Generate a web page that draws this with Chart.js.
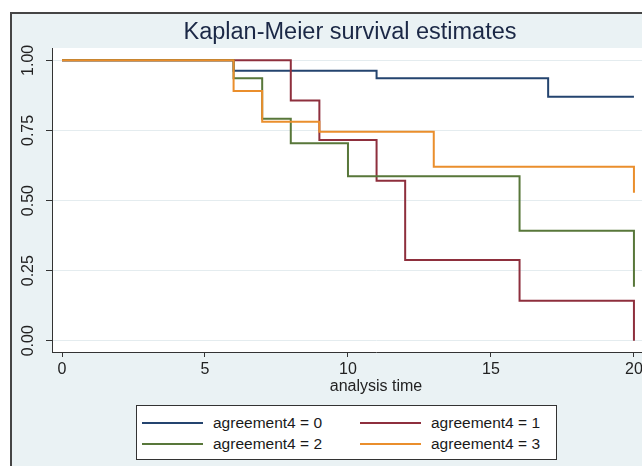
<!DOCTYPE html>
<html><head><meta charset="utf-8">
<script src="https://cdn.jsdelivr.net/npm/chart.js@4/dist/chart.umd.min.js"></script>
<style>
html,body{margin:0;padding:0;background:#fff;}
#wrap{position:relative;width:642px;height:466px;overflow:hidden;}
#frame{position:absolute;left:10px;top:12px;right:0;bottom:0;background:#EAF2F4;border-left:2px solid #454545;border-top:2px solid #454545;}
#c{position:absolute;left:0;top:0;}
#legend{position:absolute;left:136px;top:405px;width:421px;height:55px;background:#fff;border:1px solid #333;box-sizing:border-box;font-family:'Liberation Sans',Arial,sans-serif;font-size:15.5px;color:#1a1a1a;}
.item{position:absolute;height:20px;line-height:20px;width:200px;}
.swatch{position:absolute;left:0;top:9px;width:61px;height:2px;}
.lab{position:absolute;left:71px;top:0;white-space:nowrap;}
</style></head>
<body><div id="wrap"><div id="frame"></div><canvas id="c" width="700" height="466"></canvas><div id="legend"></div></div>
<script>
const seriesNames = ['agreement4 = 0', 'agreement4 = 1', 'agreement4 = 2', 'agreement4 = 3'];
const times0 = [0, 6, 11, 17, 20];
const surv0  = [1, 0.963, 0.936, 0.870, 0.870];
const times1 = [0, 8, 9, 11, 12, 16, 20];
const surv1  = [1, 0.857, 0.716, 0.571, 0.288, 0.143, 0];
const times2 = [0, 6, 7, 8, 10, 16, 20];
const surv2  = [1, 0.936, 0.792, 0.704, 0.587, 0.392, 0.193];
const times3 = [0, 6, 7, 9, 13, 20];
const surv3  = [1, 0.891, 0.781, 0.745, 0.621, 0.528];
const xTicks = [0, 5, 10, 15, 20];
const yTicks = [0, 0.25, 0.5, 0.75, 1];
const yTickLabels = ['0.00', '0.25', '0.50', '0.75', '1.00'];
const titleText = 'Kaplan-Meier survival estimates';
const xTitle = 'analysis time';

const colors = ['#24446f', '#8e2f3d', '#58773a', '#ea8e2c'];
const allTimes = [times0, times1, times2, times3];
const allSurv = [surv0, surv1, surv2, surv3];

const datasets = seriesNames.map((name, i) => ({
  label: name,
  data: allTimes[i].map((t, j) => ({x: t, y: allSurv[i][j]})),
  borderColor: colors[i],
  backgroundColor: colors[i],
  borderWidth: 2,
  pointRadius: 0,
  stepped: 'before',
  fill: false,
  order: 3 - i
}));

const plotBg = {
  id: 'plotBg',
  beforeDraw(chart) {
    const {ctx, chartArea: a} = chart;
    ctx.save();
    ctx.fillStyle = '#ffffff';
    ctx.fillRect(a.left, a.top, a.right - a.left, a.bottom - a.top);
    ctx.restore();
  }
};

const FONT = "'Liberation Sans', Arial, sans-serif";

new Chart(document.getElementById('c'), {
  type: 'line',
  data: {datasets},
  plugins: [plotBg],
  options: {
    responsive: false,
    animation: false,
    devicePixelRatio: 1,
    layout: {padding: {top: 18, left: 0, right: 0, bottom: 71}},
    plugins: {
      legend: {display: false},
      tooltip: {enabled: false},
      title: {
        display: true,
        text: titleText,
        color: '#1b2846',
        font: {family: FONT, size: 23.5, weight: 'normal'},
        padding: {top: 0, bottom: 1.8}
      }
    },
    scales: {
      x: {
        type: 'linear',
        min: -0.35,
        max: 22.31,
        afterBuildTicks(s) { s.ticks = xTicks.map(v => ({value: v})); },
        afterFit(s) { s.height = 43; },
        grid: {drawOnChartArea: false, tickLength: 5, tickColor: '#333', color: '#333'},
        border: {color: '#333', width: 1},
        ticks: {font: {family: FONT, size: 16}, color: '#222', padding: 3, maxRotation: 0, autoSkip: false,
          callback: (v) => String(v)},
        title: {display: true, text: xTitle, color: '#222', font: {family: FONT, size: 16, lineHeight: 1.0}, padding: {top: 0, bottom: 0}}
      },
      y: {
        type: 'linear',
        min: -0.040,
        max: 1.044,
        afterBuildTicks(s) { s.ticks = yTicks.map(v => ({value: v})); },
        afterFit(s) { s.width = 52; },
        grid: {color: '#e4ecef', tickColor: '#333', tickLength: 6, lineWidth: 1},
        border: {color: '#333', width: 1},
        ticks: {font: {family: FONT, size: 16}, color: '#222', padding: 2, minRotation: 90, maxRotation: 90,
          crossAlign: 'center', autoSkip: false,
          callback: (v, i) => yTickLabels[yTicks.indexOf(v)]}
      }
    }
  }
});

const lg = document.getElementById('legend');
const pos = [[5, 7], [223, 7], [5, 28], [223, 28]];
seriesNames.forEach((name, i) => {
  const it = document.createElement('div');
  it.className = 'item';
  it.style.left = pos[i][0] + 'px';
  it.style.top = pos[i][1] + 'px';
  const sw = document.createElement('div');
  sw.className = 'swatch';
  sw.style.background = colors[i];
  const lb = document.createElement('span');
  lb.className = 'lab';
  lb.textContent = name;
  it.appendChild(sw); it.appendChild(lb);
  lg.appendChild(it);
});
</script>
</body></html>
